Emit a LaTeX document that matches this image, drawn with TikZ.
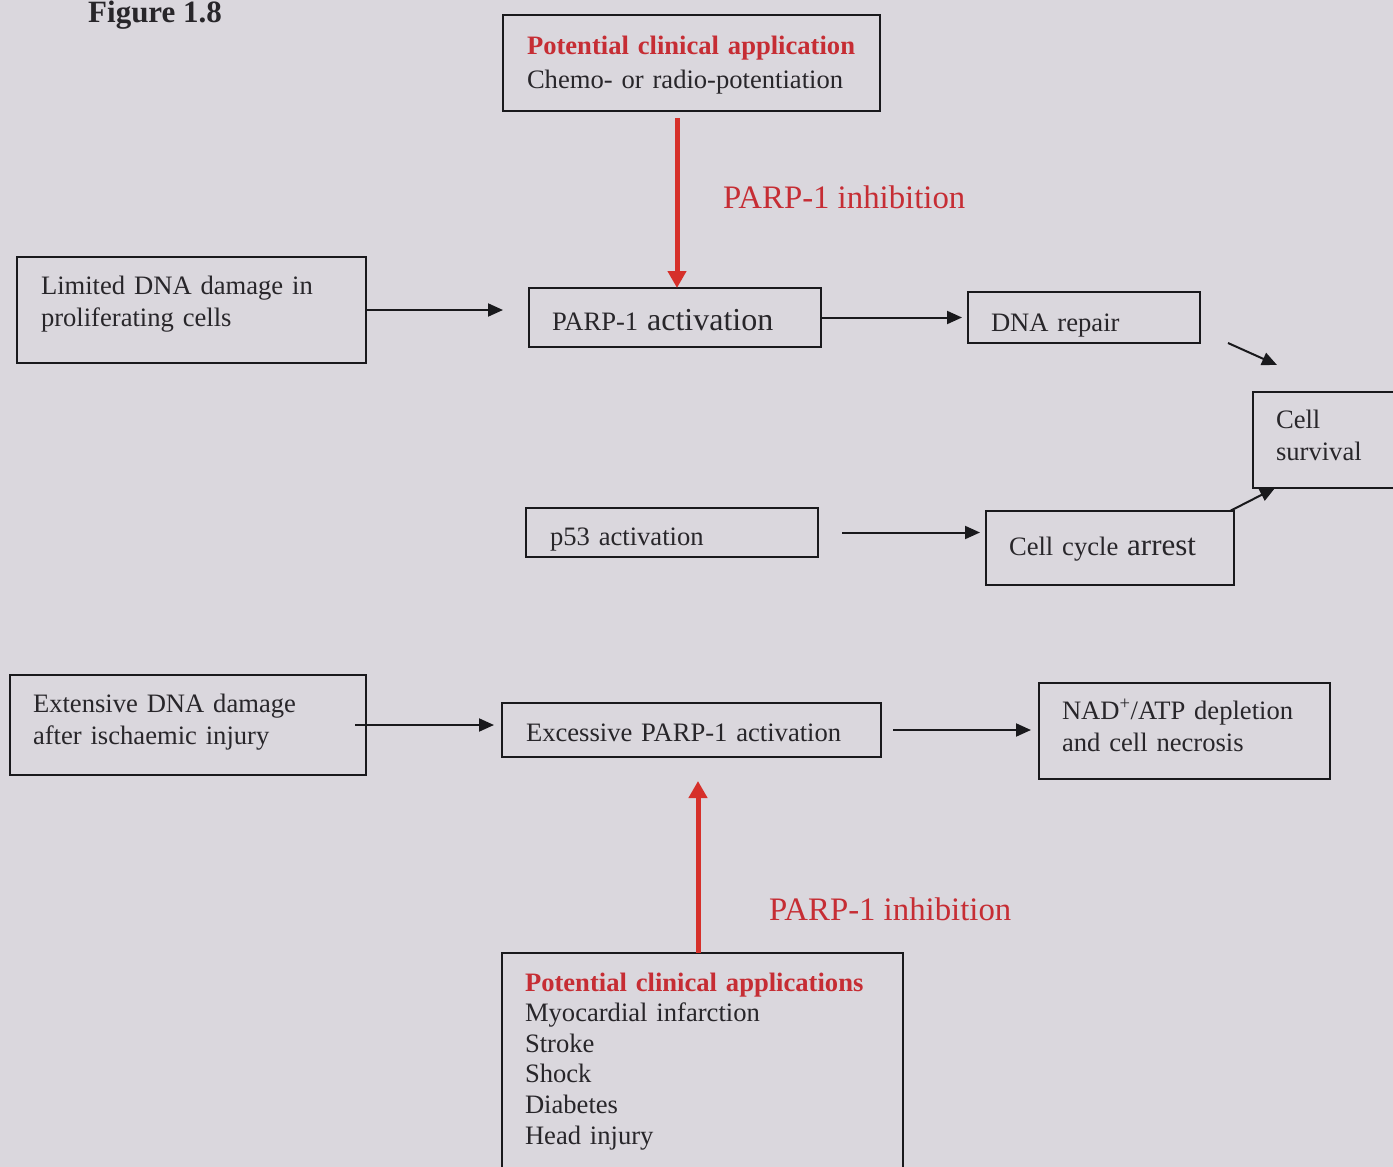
\documentclass[tikz,border=0pt]{standalone}
\usepackage{fontspec}
\setmainfont{Liberation Serif}
\usetikzlibrary{arrows.meta}
\definecolor{bg}{RGB}{218,215,221}
\definecolor{ink}{RGB}{40,38,42}
\definecolor{lin}{RGB}{25,25,28}
\definecolor{redt}{RGB}{198,45,52}
\definecolor{reda}{RGB}{214,48,42}
\newcommand{\bodyfs}{\fontsize{26.6}{32}\selectfont}
\newcommand{\redhead}[1]{\textcolor{redt}{\textbf{#1}}}
\begin{document}
\begin{tikzpicture}[x=1pt,y=-1pt,
  box/.style={draw=lin, line width=2pt, anchor=north west, inner ysep=0pt, outer sep=0pt, align=left, text=ink, font=\bodyfs},
  arr/.style={draw=lin, line width=2pt, -{Triangle[length=15pt,width=13pt]}},
  redarr/.style={draw=reda, line width=5pt, -{Triangle[length=17pt,width=18pt]}},
  hl/.style={text=redt, font=\fontsize{32.8}{36}\selectfont, anchor=base west, inner sep=0pt}]
\fill[bg] (0,0) rectangle (1393,1167);
\useasboundingbox (0,0) rectangle (1393,1167);
\clip (0,0) rectangle (1393,1167);

\node[anchor=base west, inner sep=0pt, text=ink, font=\fontsize{31}{31}\selectfont\bfseries] (title) at (88,22) {Figure 1.8};

\node[box, font=\fontsize{26.6}{34}\selectfont, inner xsep=24pt, text width=329pt, text height=39pt, text depth=57pt] (apptop) at (503,15)
  {\mbox{\redhead{Potential clinical application}}\\ \mbox{Chemo- or radio-potentiation}};
\node[box, inner xsep=24pt, text width=301pt, text height=37pt, text depth=69pt] (lim) at (17,257)
  {Limited DNA damage in\\ proliferating cells};
\node[box, inner xsep=23pt, text width=246pt, text height=42pt, text depth=17pt] (parp) at (529,288)
  {PARP-1 {\fontsize{32}{32}\selectfont activation}};
\node[box, inner xsep=23pt, text width=186pt, text height=39pt, text depth=12pt] (rep) at (968,292)
  {DNA repair};
\node[box, inner xsep=23pt, text width=124pt, text height=36pt, text depth=60pt] (surv) at (1253,392)
  {Cell\\ survival};
\node[box, inner xsep=24pt, text width=244pt, text height=37pt, text depth=12pt] (p53) at (526,508)
  {p53 activation};
\node[box, inner xsep=23pt, text width=202pt, text height=44pt, text depth=30pt] (cyc) at (986,511)
  {Cell cycle {\fontsize{31}{31}\selectfont arrest}};
\node[box, inner xsep=23pt, text width=310pt, text height=37pt, text depth=63pt] (ext) at (10,675)
  {Extensive DNA damage\\ after ischaemic injury};
\node[box, inner xsep=24pt, text width=331pt, text height=38pt, text depth=16pt] (exc) at (502,703)
  {Excessive PARP-1 activation};
\node[box, inner xsep=23pt, text width=245pt, text height=36pt, text depth=60pt] (nad) at (1039,683)
  {NAD\textsuperscript{+}/ATP depletion\\ and cell necrosis};
\node[box, font=\fontsize{26.6}{30.6}\selectfont, inner xsep=23pt, text width=355pt, text height=38pt, text depth=209pt] (appbot) at (502,953)
  {\redhead{Potential clinical applications}\\ Myocardial infarction\\ Stroke\\ Shock\\ Diabetes\\ Head injury};

\node[hl] (inh1) at (723,208) {PARP-1 inhibition};
\node[hl] (inh2) at (769,920) {PARP-1 inhibition};

\coordinate (rx1) at (677,0);
\coordinate (rx2) at (698,0);
\draw[redarr, shorten <=7pt] (apptop.south -| rx1) -- (parp.north -| rx1);
\draw[redarr, shorten >=24pt] (appbot.north -| rx2) -- (exc.south -| rx2);

\draw[arr, shorten >=26pt] (lim.east) -- (lim.east -| parp.west);
\draw[arr, shorten >=6pt] (parp.east) -- (parp.east -| rep.west);
\draw[arr] ([xshift=28pt]rep.south east) -- ([xshift=24pt,yshift=27pt]surv.north west);
\draw[arr] ([xshift=-4pt]cyc.north east) -- ([xshift=22pt]surv.south west);
\draw[arr, shorten <=24pt, shorten >=6pt] (p53.east) -- (p53.east -| cyc.west);
\draw[arr, shorten <=-11pt, shorten >=8pt] (ext.east) -- (ext.east -| exc.west);
\draw[arr, shorten <=12pt, shorten >=8pt] (exc.east) -- (exc.east -| nad.west);
\end{tikzpicture}
\end{document}
